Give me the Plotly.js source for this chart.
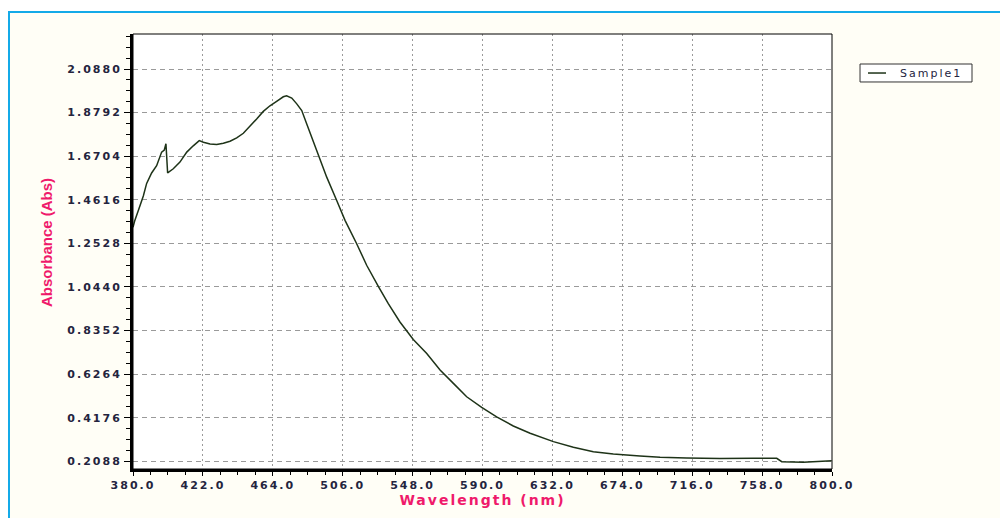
<!DOCTYPE html>
<html>
<head>
<meta charset="utf-8">
<script src="https://cdn.plot.ly/plotly-3.0.1.min.js"></script>
<style>
  html, body { margin: 0; padding: 0; background: #ffffff; width: 1000px; height: 518px; overflow: hidden; }
  #frame { position: absolute; left: 8px; top: 11px; width: 992px; height: 507px;
           border-top: 2px solid #14aae8; border-left: 2px solid #14aae8; background: #fffef6; }
  #chart { position: absolute; left: 0; top: 0; width: 1000px; height: 518px; }
  .xtick text, .ytick text { letter-spacing: 2px; }
  .g-xtitle text { letter-spacing: 2px; }
  .g-ytitle { transform: translateY(-9px); }
  .annotation-text { letter-spacing: 2px; }
</style>
</head>
<body>
<div id="frame"></div>
<div id="chart"></div>
<script>
// Wavelength (nm)
const wavelength = [380.0, 381.0, 383.2, 386.2, 388.2, 391.2, 394.2, 397.2, 398.8, 399.8, 400.8,
  404.2, 408.2, 412.3, 416.2, 419.8, 422.3, 426.3, 430.3, 434.3, 438.3, 442.3, 446.3, 450.3,
  454.3, 458.3, 462.3, 466.3, 470.3, 472.3, 475.4, 478.4, 481.4, 484.4, 488.4, 491.4, 496.4,
  502.4, 507.4, 514.4, 520.4, 527.4, 533.4, 540.4, 548.4, 556.5, 564.5, 572.5, 580.5, 589.5,
  598.5, 608.5, 618.6, 632.6, 644.6, 656.6, 668.6, 684.6, 696.7, 712.7, 732.7, 752.7, 766.8,
  769.8, 782.8, 799.8];
// Absorbance (Abs) of Sample1
const absorbance = [1.33, 1.36, 1.41, 1.48, 1.54, 1.59, 1.625, 1.69, 1.70, 1.73, 1.59,
  1.61, 1.642, 1.69, 1.72, 1.745, 1.737, 1.729, 1.726, 1.732, 1.742, 1.758, 1.78, 1.817,
  1.849, 1.885, 1.912, 1.933, 1.955, 1.96, 1.949, 1.921, 1.889, 1.825, 1.742, 1.67, 1.57,
  1.458, 1.363, 1.251, 1.148, 1.047, 0.964, 0.876, 0.792, 0.725, 0.646, 0.582, 0.518, 0.467,
  0.422, 0.378, 0.343, 0.303, 0.276, 0.255, 0.244, 0.234, 0.228, 0.225, 0.222, 0.223, 0.223,
  0.207, 0.204, 0.211];
const seriesName = "Sample1";
const xTickVals = [380.0, 422.0, 464.0, 506.0, 548.0, 590.0, 632.0, 674.0, 716.0, 758.0, 800.0];
const yTickVals = [0.2088, 0.4176, 0.6264, 0.8352, 1.0440, 1.2528, 1.4616, 1.6704, 1.8792, 2.0880];

const tickFont = { family: "DejaVu Sans, Verdana, sans-serif", size: 11, color: "#24243e", weight: "bold" };
const pink = "#ef1a6b";
const lineColor = "#1e3318";

const trace = {
  x: wavelength, y: absorbance, name: seriesName, type: "scatter", mode: "lines",
  line: { color: lineColor, width: 1.5 }, showlegend: false
};

const layout = {
  width: 1000, height: 518,
  margin: { l: 133, r: 168, t: 34, b: 49, pad: 0 },
  paper_bgcolor: "rgba(0,0,0,0)", plot_bgcolor: "#ffffff",
  showlegend: false,
  xaxis: {
    range: [380, 800], tickmode: "array", tickvals: xTickVals,
    ticktext: xTickVals.map(v => v.toFixed(1)),
    ticks: "outside", ticklen: 4, tickwidth: 1, tickcolor: "#000",
    minor: { dtick: 10.5, tick0: 380, ticks: "outside", ticklen: 3, tickcolor: "#000", showgrid: false },
    showline: true, linewidth: 3, linecolor: "#000",
    showgrid: true, gridcolor: "#9a9a9a", gridwidth: 1, griddash: "2px,3px",
    zeroline: false, tickfont: tickFont,
    title: { text: "Wavelength (nm)", standoff: 0,
      font: { family: "DejaVu Sans, sans-serif", size: 14, color: pink, weight: "bold" } }
  },
  yaxis: {
    range: [0.1719, 2.2557], tickmode: "array", tickvals: yTickVals,
    ticktext: yTickVals.map(v => v.toFixed(4)),
    ticks: "outside", ticklen: 6, tickwidth: 1, tickcolor: "#000",
    minor: { dtick: 0.0522, tick0: 0.2088, ticks: "outside", ticklen: 4, tickcolor: "#000", showgrid: false },
    showline: true, linewidth: 3, linecolor: "#000",
    showgrid: true, gridcolor: "#9a9a9a", gridwidth: 1, griddash: "5px,4px",
    zeroline: false, tickfont: tickFont,
    title: { text: "Absorbance (Abs)", standoff: 12,
      font: { family: "Liberation Sans, Arial, sans-serif", size: 15, color: pink, weight: "bold" } }
  },
  shapes: [
    { type: "rect", xref: "paper", yref: "paper", x0: 0, x1: 1, y0: 0, y1: 1,
      line: { color: "#000", width: 1 }, fillcolor: "rgba(0,0,0,0)", layer: "above" },
    // legend box and line sample
    { type: "rect", xref: "paper", yref: "paper", x0: 1.0401, x1: 1.2003, y0: 0.8897, y1: 0.9310,
      line: { color: "#333", width: 1 }, fillcolor: "#ffffff", layer: "above" },
    { type: "line", xref: "paper", yref: "paper", x0: 1.0515, x1: 1.0773, y0: 0.9103, y1: 0.9103,
      line: { color: lineColor, width: 1.5 }, layer: "above" }
  ],
  annotations: [
    { text: seriesName, xref: "paper", yref: "paper", x: 1.0944, y: 0.9103,
      xanchor: "left", yanchor: "middle", showarrow: false,
      font: { family: "DejaVu Sans, sans-serif", size: 11, color: "#24243e" } }
  ]
};

Plotly.newPlot("chart", [trace], layout, { displayModeBar: false, staticPlot: true });
</script>
</body>
</html>
